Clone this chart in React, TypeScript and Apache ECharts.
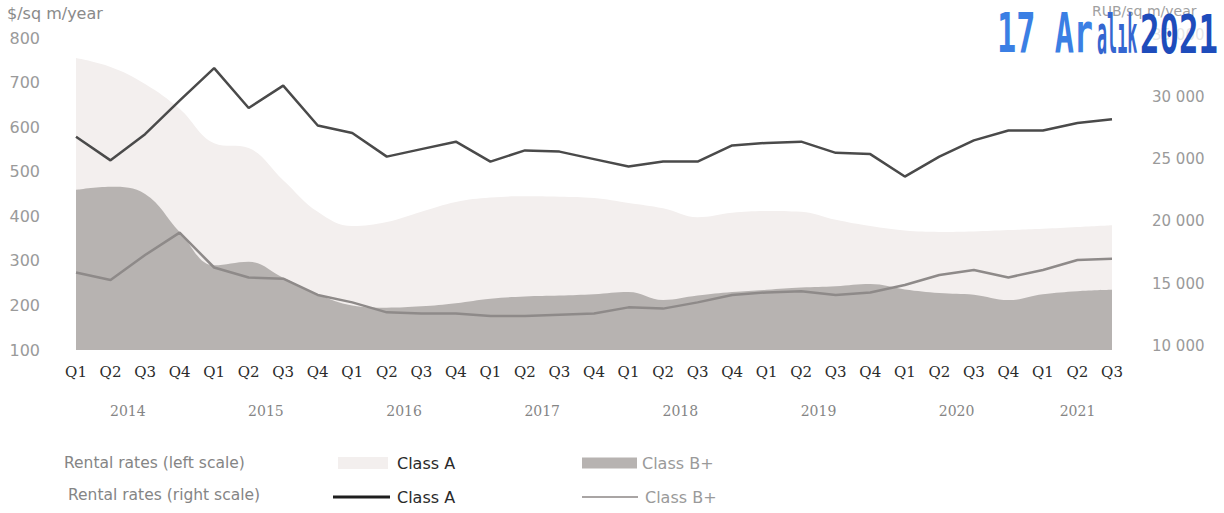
import React, { useEffect, useRef } from "react";
import * as echarts from "echarts";

// Quarterly office rental rates, 2014 Q1 – 2021 Q3
const years = ["2014", "2015", "2016", "2017", "2018", "2019", "2020", "2021"];
const quartersPerYear = [4, 4, 4, 4, 4, 4, 4, 3];

// Left scale, $/sq m/year (areas)
const classAUsd = [755, 735, 697, 641, 564, 553, 481, 410, 378, 387, 410, 432, 442, 445, 444, 441, 430, 418, 398, 408, 412, 410, 392, 378, 368, 365, 366, 369, 372, 376, 380];
const classBUsd = [459, 466, 450, 365, 290, 298, 262, 225, 200, 195, 198, 205, 215, 220, 222, 225, 230, 212, 222, 230, 235, 240, 243, 248, 236, 228, 224, 212, 225, 232, 235];

// Right scale, RUB/sq m/year (lines)
const classARub = [26800, 24900, 27000, 29700, 32300, 29100, 30900, 27700, 27100, 25200, 25800, 26400, 24800, 25700, 25600, 25000, 24400, 24800, 24800, 26100, 26300, 26400, 25500, 25400, 23600, 25200, 26500, 27300, 27300, 27900, 28200];
const classBRub = [15900, 15300, 17300, 19100, 16300, 15500, 15400, 14100, 13500, 12700, 12600, 12600, 12400, 12400, 12500, 12600, 13100, 13000, 13500, 14100, 14300, 14400, 14100, 14300, 14900, 15700, 16100, 15500, 16100, 16900, 17000];

const categories: string[] = years.flatMap((y, i) =>
  Array.from({ length: quartersPerYear[i] }, (_, q) => `Q${q + 1} ${y}`)
);

// Year captions sit centred under their own quarters (keyed by doubled index)
const yearAtHalfIndex = new Map<number, string>();
{
  let start = 0;
  years.forEach((y, i) => {
    const mid = start + (quartersPerYear[i] - 1) / 2;
    yearAtHalfIndex.set(Math.round(mid * 2), y);
    start += quartersPerYear[i];
  });
}

const spaced = (v: number) => String(v).replace(/\B(?=(\d{3})+(?!\d))/g, " ");
const legendName = (n: string) => n.replace(/ \(.*\)$/, "");

const COLOR_A_AREA = "#f3efee";
const COLOR_B_AREA = "#b7b3b1";
const COLOR_A_LINE = "#4a4a4a";
const COLOR_B_LINE = "#8e8a89";
const SANS = '"DejaVu Sans", sans-serif';
const SERIF = '"DejaVu Serif", serif';

export default function App() {
  const ref = useRef<HTMLDivElement>(null);

  useEffect(() => {
    if (!ref.current) return;
    const chart = echarts.init(ref.current, undefined, { renderer: "svg" });

    const hiddenAxisParts = {
      axisLine: { show: false },
      axisTick: { show: false },
      splitLine: { show: false },
    };

    const legendBase = {
      orient: "horizontal",
      padding: 0,
      icon: "rect",
      formatter: legendName,
      itemStyle: { borderWidth: 0 },
    };

    chart.setOption({
      animation: false,
      backgroundColor: "#ffffff",
      grid: [
        { left: 76, right: 112, top: 38, bottom: 163, outerBoundsMode: "none", containLabel: false },
        { left: 76, right: 112, top: 34.5, bottom: 167, outerBoundsMode: "none", containLabel: false },
      ],
      xAxis: [
        {
          type: "category",
          gridIndex: 0,
          position: "bottom",
          data: categories,
          boundaryGap: false,
          ...hiddenAxisParts,
          axisLabel: {
            interval: 0,
            margin: 14,
            formatter: (v: string) => v.split(" ")[0],
            color: "#2b2b2b",
            fontSize: 15,
            fontFamily: SERIF,
          },
        },
        {
          type: "value",
          gridIndex: 0,
          position: "bottom",
          min: 0,
          max: categories.length - 1,
          interval: 0.5,
          ...hiddenAxisParts,
          axisLabel: {
            margin: 54,
            formatter: (v: number) => yearAtHalfIndex.get(Math.round(v * 2)) ?? "",
            color: "#858585",
            fontSize: 14,
            fontFamily: SERIF,
          },
        },
        {
          type: "category",
          gridIndex: 1,
          data: categories,
          boundaryGap: false,
          show: false,
        },
      ],
      yAxis: [
        {
          type: "value",
          gridIndex: 0,
          position: "left",
          min: 100,
          max: 800,
          interval: 100,
          ...hiddenAxisParts,
          axisLabel: {
            margin: 36,
            color: "#9a9a9a",
            fontSize: 16,
            fontFamily: SANS,
          },
        },
        {
          type: "value",
          gridIndex: 1,
          position: "right",
          min: 10000,
          max: 35000,
          interval: 5000,
          ...hiddenAxisParts,
          axisLabel: {
            margin: 40,
            align: "left",
            formatter: spaced,
            color: "#9a9a9a",
            fontSize: 15,
            fontFamily: SANS,
          },
        },
      ],
      legend: [
        {
          ...legendBase,
          left: 338,
          top: 455,
          itemWidth: 50,
          itemHeight: 12,
          data: [{ name: "Class A (left scale)", itemStyle: { color: COLOR_A_AREA } }],
          textStyle: { color: "#2a2a2a", fontSize: 16, fontFamily: SANS, padding: [0, 0, 0, 4] },
        },
        {
          ...legendBase,
          left: 582,
          top: 455,
          itemWidth: 55,
          itemHeight: 11,
          data: [{ name: "Class B+ (left scale)", itemStyle: { color: COLOR_B_AREA } }],
          textStyle: { color: "#9a9a9a", fontSize: 16, fontFamily: SANS, padding: [0, 0, 0, 0] },
        },
        {
          ...legendBase,
          left: 333,
          top: 489,
          itemWidth: 57,
          itemHeight: 3,
          data: [{ name: "Class A (right scale)", itemStyle: { color: "#1e1e1e" } }],
          textStyle: { color: "#2a2a2a", fontSize: 16, fontFamily: SANS, padding: [0, 0, 0, 2] },
        },
        {
          ...legendBase,
          left: 582,
          top: 489,
          itemWidth: 56,
          itemHeight: 2,
          data: [{ name: "Class B+ (right scale)", itemStyle: { color: "#a9a5a4" } }],
          textStyle: { color: "#9a9a9a", fontSize: 16, fontFamily: SANS, padding: [0, 0, 0, 2] },
        },
      ],
      series: [
        {
          name: "Class A (left scale)",
          type: "line",
          xAxisIndex: 0,
          yAxisIndex: 0,
          data: classAUsd,
          smooth: 0.4,
          symbol: "none",
          color: COLOR_A_AREA,
          lineStyle: { width: 0 },
          areaStyle: { color: COLOR_A_AREA, opacity: 1 },
          z: 1,
        },
        {
          name: "Class B+ (left scale)",
          type: "line",
          xAxisIndex: 0,
          yAxisIndex: 0,
          data: classBUsd,
          smooth: 0.4,
          symbol: "none",
          color: COLOR_B_AREA,
          lineStyle: { width: 0 },
          areaStyle: { color: COLOR_B_AREA, opacity: 1 },
          z: 2,
        },
        {
          name: "Class A (right scale)",
          type: "line",
          xAxisIndex: 2,
          yAxisIndex: 1,
          data: classARub,
          symbol: "none",
          color: COLOR_A_LINE,
          lineStyle: { color: COLOR_A_LINE, width: 2.5 },
          z: 4,
        },
        {
          name: "Class B+ (right scale)",
          type: "line",
          xAxisIndex: 2,
          yAxisIndex: 1,
          data: classBRub,
          symbol: "none",
          color: COLOR_B_LINE,
          lineStyle: { color: COLOR_B_LINE, width: 2.5 },
          z: 3,
        },
      ],
      graphic: [
        {
          type: "text",
          x: 7,
          y: 13,
          style: { text: "$/sq m/year", font: `16px ${SANS}`, fill: "#8a8a8a", verticalAlign: "middle" },
        },
        {
          type: "text",
          x: 1092,
          y: 11,
          style: { text: "RUB/sq m/year", font: `14px ${SANS}`, fill: "#a0a0a0", verticalAlign: "middle" },
        },
        {
          type: "text",
          x: 64,
          y: 463,
          style: { text: "Rental rates (left scale)", font: `15.5px ${SANS}`, fill: "#858585", verticalAlign: "middle" },
        },
        {
          type: "text",
          x: 68,
          y: 495,
          style: { text: "Rental rates (right scale)", font: `15.5px ${SANS}`, fill: "#858585", verticalAlign: "middle" },
        },
        // date stamp, on a pale backing that veils the top right-hand tick label
        {
          type: "rect",
          shape: { x: 1088, y: 19, width: 136, height: 38 },
          z: 50,
          style: { fill: "rgba(255,255,255,0.75)" },
        },
        {
          type: "text",
          x: 997,
          y: 33,
          scaleX: 0.57,
          z: 100,
          style: { text: "17 Ar", font: 'bold 56px "DejaVu Sans Mono", monospace', fill: "#3b7fe4", verticalAlign: "middle" },
        },
        {
          type: "text",
          x: 1097,
          y: 34,
          scaleX: 0.31,
          z: 100,
          style: { text: "alık", font: 'bold 54px "DejaVu Sans Mono", monospace', fill: "#3566d0", verticalAlign: "middle" },
        },
        {
          type: "text",
          x: 1140,
          y: 34,
          scaleX: 0.6,
          z: 100,
          style: { text: "2021", font: 'bold 54px "DejaVu Sans Mono", monospace', fill: "#1e4cbb", verticalAlign: "middle" },
        },
      ],
    });

    return () => chart.dispose();
  }, []);

  return (
    <div
      ref={ref}
      style={{ position: "fixed", left: 0, top: 0, width: 1224, height: 513, background: "#fff" }}
    />
  );
}
